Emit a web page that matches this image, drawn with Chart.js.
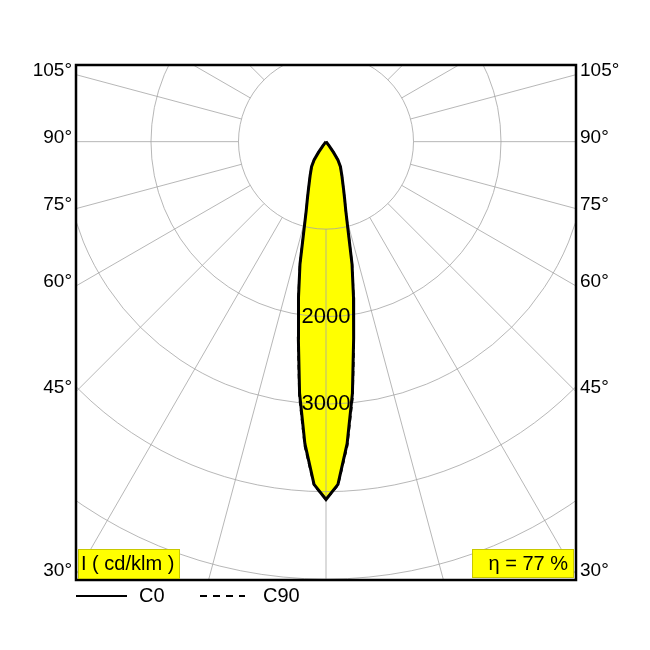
<!DOCTYPE html>
<html>
<head>
<meta charset="utf-8">
<script src="https://cdn.jsdelivr.net/npm/chart.js@4"></script>
<style>
  body { margin: 0; background: #fff; }
  canvas { display: block; }
</style>
</head>
<body>
<canvas id="myChart" width="650" height="650"></canvas>
<script>
// gamma angles (deg from nadir) and intensities in cd/klm
var gammaValues = [0, 2, 4, 6, 8, 10, 12, 14, 16, 18, 20, 25, 30, 33, 35, 37, 40, 90];
var c0Values = [4090, 3920, 3460, 2890, 2270, 1810, 1430, 1040, 820, 690, 590, 430, 330, 250, 150, 60, 0, 0];
var c90Values = [4090, 3930, 3490, 2930, 2300, 1830, 1440, 1045, 820, 690, 590, 430, 330, 250, 150, 60, 0, 0];

var ringValues = [1000, 2000, 3000, 4000, 5000];
var ringLabels = ["2000", "3000"];
var angleTicks = [30, 45, 60, 75, 90, 105];
var spokeStep = 15;

var fontName = "'Liberation Sans', Arial, sans-serif";

// closed curve: right half from the centre down, then left half back up
function curvePoints(values) {
  var pts = [];
  for (var i = gammaValues.length - 1; i >= 0; i--) {
    var g = gammaValues[i] * Math.PI / 180;
    pts.push({ x: values[i] * Math.sin(g), y: -values[i] * Math.cos(g) });
  }
  for (var j = 1; j < gammaValues.length; j++) {
    var g2 = gammaValues[j] * Math.PI / 180;
    pts.push({ x: -values[j] * Math.sin(g2), y: -values[j] * Math.cos(g2) });
  }
  return pts;
}

var polarGrid = {
  id: "polarGrid",
  afterDatasetDraw: function(chart, args) {
    if (args.index !== 2) return;
    var ctx = chart.ctx;
    var xs = chart.scales.x, ys = chart.scales.y;
    var area = chart.chartArea;
    var cx = xs.getPixelForValue(0), cy = ys.getPixelForValue(0);
    var k = xs.getPixelForValue(1000) - cx;
    ctx.save();
    ctx.beginPath();
    ctx.rect(area.left, area.top, area.right - area.left, area.bottom - area.top);
    ctx.clip();
    ctx.strokeStyle = "#a4a4a4";
    ctx.lineWidth = 0.8;
    ringValues.forEach(function(r) {
      ctx.beginPath();
      ctx.arc(cx, cy, r * k / 1000, 0, Math.PI * 2);
      ctx.stroke();
    });
    var r0 = ringValues[0] * k / 1000;
    for (var a = 0; a < 360; a += spokeStep) {
      var t = a * Math.PI / 180;
      ctx.beginPath();
      ctx.moveTo(cx + r0 * Math.sin(t), cy + r0 * Math.cos(t));
      ctx.lineTo(cx + 900 * Math.sin(t), cy + 900 * Math.cos(t));
      ctx.stroke();
    }
    ctx.restore();
  },
  afterDraw: function(chart) {
    var ctx = chart.ctx;
    var xs = chart.scales.x, ys = chart.scales.y;
    var area = chart.chartArea;
    var cx = xs.getPixelForValue(0);
    ctx.save();
    // ring labels
    ctx.fillStyle = "#000";
    ctx.font = "22px " + fontName;
    ctx.textAlign = "center";
    ctx.textBaseline = "middle";
    ringLabels.forEach(function(l) {
      ctx.fillText(l, cx, ys.getPixelForValue(-Number(l)));
    });
    // angle labels on both sides
    ctx.font = "19px " + fontName;
    ctx.textBaseline = "alphabetic";
    var xEdge = xs.max;
    angleTicks.forEach(function(a) {
      var t = a * Math.PI / 180;
      var yv = -xEdge * Math.cos(t) / Math.sin(t);
      var py = ys.getPixelForValue(yv) + 1;
      ctx.textAlign = "right";
      ctx.fillText(a + "°", area.left - 4, py);
      ctx.textAlign = "left";
      ctx.fillText(a + "°", area.right + 4, py);
    });
    // frame
    ctx.strokeStyle = "#000";
    ctx.lineWidth = 2.5;
    ctx.strokeRect(area.left, area.top, area.right - area.left, area.bottom - area.top);
    // boxes
    ctx.font = "20px " + fontName;
    ctx.textBaseline = "middle";
    ctx.fillStyle = "#ffff00";
    ctx.strokeStyle = "#c8c800";
    ctx.lineWidth = 1;
    ctx.fillRect(78, 549, 101, 29);
    ctx.strokeRect(78.5, 549.5, 101, 29);
    ctx.fillRect(472, 549, 101, 28);
    ctx.strokeRect(472.5, 549.5, 101, 28);
    ctx.fillStyle = "#000";
    ctx.textAlign = "left";
    ctx.fillText("I ( cd/klm )", 81, 564);
    ctx.textAlign = "right";
    ctx.fillText("η = 77 %", 568, 564);
    // legend
    ctx.strokeStyle = "#000";
    ctx.lineWidth = 2;
    ctx.beginPath();
    ctx.moveTo(76, 596);
    ctx.lineTo(127, 596);
    ctx.stroke();
    ctx.setLineDash([7, 6]);
    ctx.beginPath();
    ctx.moveTo(200, 596);
    ctx.lineTo(245, 596);
    ctx.stroke();
    ctx.setLineDash([]);
    ctx.textAlign = "left";
    ctx.fillText("C0", 139, 596);
    ctx.fillText("C90", 263, 596);
    ctx.restore();
  }
};

new Chart("myChart", {
  type: "scatter",
  data: {
    datasets: [{
      label: "C0",
      data: curvePoints(c0Values),
      showLine: true,
      borderColor: "#000",
      borderWidth: 3,
      pointRadius: 0,
      tension: 0,
      fill: false
    }, {
      label: "C90",
      data: curvePoints(c90Values),
      showLine: true,
      borderColor: "#000",
      borderWidth: 2,
      borderDash: [5, 4],
      pointRadius: 0,
      tension: 0,
      fill: false
    }, {
      label: "fill",
      data: curvePoints(c0Values),
      showLine: true,
      borderWidth: 0,
      borderColor: "rgba(0,0,0,0)",
      backgroundColor: "#ffff00",
      pointRadius: 0,
      tension: 0,
      fill: "shape"
    }]
  },
  options: {
    responsive: false,
    animation: false,
    layout: { padding: { left: 76, right: 74, top: 65, bottom: 70 } },
    scales: {
      x: { type: "linear", min: -2857, max: 2857, display: false },
      y: { type: "linear", min: -5010, max: 876, display: false }
    },
    plugins: {
      legend: { display: false },
      tooltip: { enabled: false }
    }
  },
  plugins: [polarGrid]
});
</script>
</body>
</html>
